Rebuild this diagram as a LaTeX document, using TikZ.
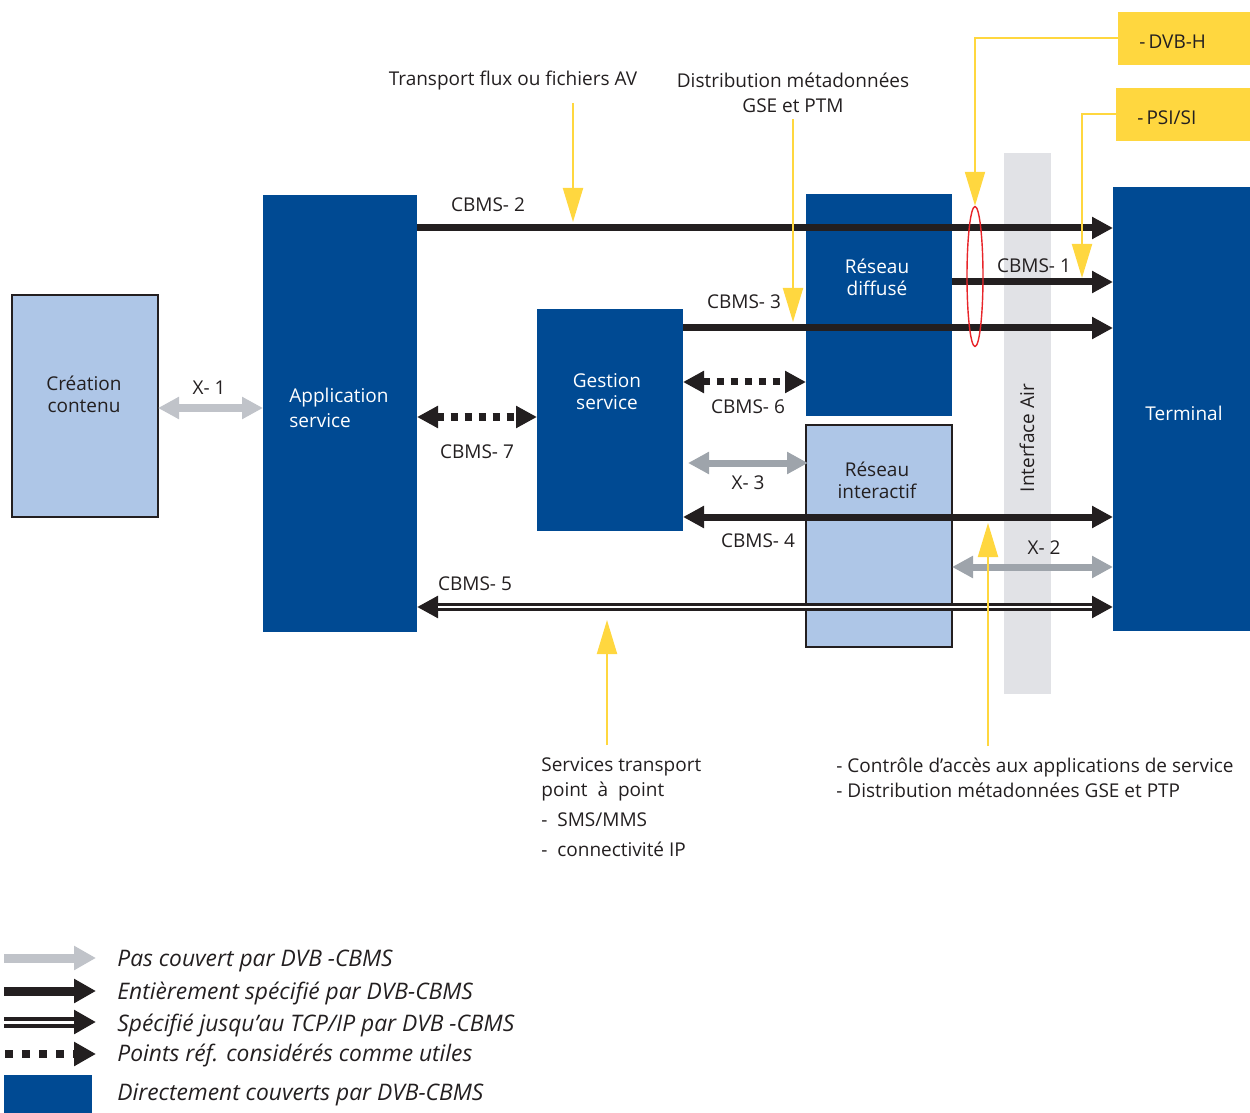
\documentclass[tikz,border=0pt]{standalone}
\usepackage{fontspec}
\setmainfont{Open Sans}
\usetikzlibrary{arrows.meta,shapes.geometric}
\definecolor{dblue}{HTML}{004A93}
\definecolor{lblue}{HTML}{AEC6E7}
\definecolor{bandc}{HTML}{E1E2E6}
\definecolor{lgray}{HTML}{C0C3C9}
\definecolor{dgray}{HTML}{9EA4AB}
\definecolor{yel}{HTML}{FFD73F}
\definecolor{ink}{HTML}{231F20}
\definecolor{redc}{HTML}{E8252A}
\newcommand\labfont{\fontsize{9.5}{12.5}\selectfont}
\newcommand\boxfont{\fontsize{9.5}{11}\selectfont}
\newcommand\legfont{\fontsize{11.4}{13}\selectfont\itshape}
\tikzset{
  TB/.tip={Triangle[length=10.5pt,width=10.5pt]},
  TL/.tip={Triangle[length=11pt,width=11.5pt]},
  TY/.tip={Triangle[length=17pt,width=10pt]},
}
\begin{document}
\begin{tikzpicture}[x=0.5pt,y=-0.5pt,
  bluebox/.style={fill=dblue, draw=none, inner sep=0pt, outer sep=0pt},
  lightbox/.style={fill=lblue, draw=ink, line width=1pt, inner sep=0pt, outer sep=0pt},
  wtxt/.style={text=white, font=\boxfont, align=center, inner sep=0pt},
  dtxt/.style={text=ink, font=\boxfont, align=center, inner sep=0pt},
  lbl/.style={text=ink, font=\labfont, inner sep=0pt},
  blk/.style={draw=ink, line width=3.5pt, -TB},
  blkd/.style={draw=ink, line width=3.5pt, TB-TB},
  dots/.style={draw=ink, line width=3.5pt, dash pattern=on 3.5pt off 3.5pt, TB-TB},
  grayl/.style={draw=lgray, line width=3.5pt, TB-TB},
  grayd/.style={draw=dgray, line width=3.5pt, TB-TB},
  yarr/.style={draw=yel, line width=1pt, -TY},
  legtxt/.style={text=ink, font=\legfont, anchor=base west, inner sep=0pt},
]
\useasboundingbox (0,0) rectangle (1250,1113);

% background band
\node[fill=bandc, inner sep=0pt, minimum width=23.5pt, minimum height=270.5pt] (air) at (1027.5,423.5) {};
\node[rotate=90, text=ink, font=\labfont, inner sep=0pt] (airt) at (1027,438) {Interface Air};

% boxes
\node[lightbox, minimum width=73pt, minimum height=111pt] (crea) at (85,406) {};
\node[bluebox, minimum width=77pt, minimum height=218.5pt] (app) at (340,413.5) {};
\node[bluebox, minimum width=73pt, minimum height=111pt] (gest) at (610,420) {};
\node[bluebox, minimum width=73pt, minimum height=111pt] (diff) at (879,305) {};
\node[lightbox, minimum width=73pt, minimum height=111pt] (inter) at (879,536) {};
\node[bluebox, minimum width=68.5pt, minimum height=222pt] (term) at (1181.5,409) {};
\node[fill=yel, inner sep=0pt, minimum width=66pt, minimum height=26.5pt] (dvbh) at (1184,38.5) {};
\node[fill=yel, inner sep=0pt, minimum width=67pt, minimum height=26.5pt] (psi) at (1183,114.5) {};

% box texts
\node[dtxt] (creat) at (84,394) {Création\\contenu};
\node[wtxt, font=\labfont, align=left, anchor=west] (appt) at (289,408) {Application\\service};
\node[wtxt] (gestt) at (607,392) {Gestion\\service};
\node[wtxt] (difft) at (877,277) {Réseau\\diffusé};
\node[dtxt] (intert) at (877,480) {Réseau\\interactif};
\node[wtxt] (termt) at (1184,413) {Terminal};
\node[lbl, anchor=west] (dvbht) at (1139,42) {-\kern1.5pt DVB-H};
\node[lbl, anchor=west] (psit) at (1137,118) {-\kern1.5pt PSI/SI};

% connectors
\draw[grayl] (crea.east |- 0,408) -- (app.west |- 0,408);
\draw[blk] (app.east |- 0,228) -- (term.west |- 0,228);
\draw[blk] (diff.east |- 0,282) -- (term.west |- 0,282);
\draw[blk] (gest.east |- 0,328) -- (term.west |- 0,328);
\draw[dots] (gest.east |- 0,382) -- (diff.west |- 0,382);
\draw[dots] (app.east |- 0,417) -- (gest.west |- 0,417);
\draw[grayd] ([xshift=2.5pt]gest.east |- 0,463) -- ([xshift=1pt]inter.west |- 0,463);
\draw[blkd] (gest.east |- 0,517) -- (term.west |- 0,517);
\draw[grayd] (inter.east |- 0,567) -- (term.west |- 0,567);
\draw[draw=ink, line width=4pt, TB-TB] (app.east |- 0,607) -- (term.west |- 0,607);
\draw[draw=white, line width=1.3pt, shorten <=10.5pt, shorten >=10.5pt] (app.east |- 0,607) -- (term.west |- 0,607);

% connector labels
\node[lbl] (l1) at (209,388) {X- 1};
\node[lbl] (l2) at (488,205) {CBMS- 2};
\node[lbl] (l3) at (1034,266) {CBMS- 1};
\node[lbl] (l4) at (744,302) {CBMS- 3};
\node[lbl] (l5) at (748,407) {CBMS- 6};
\node[lbl] (l6) at (477,452) {CBMS- 7};
\node[lbl] (l7) at (748,483) {X- 3};
\node[lbl] (l8) at (758,541) {CBMS- 4};
\node[lbl] (l9) at (1044,548) {X- 2};
\node[lbl] (l10) at (475,584) {CBMS- 5};

% annotation texts
\node[text=ink, font=\labfont, align=center, inner sep=0pt] (trans) at (513,81) {Transport flux ou fichiers AV};
\node[text=ink, font=\labfont, align=center, inner sep=0pt] (dist) at (793,93) {Distribution métadonnées\\GSE et PTM};
\node[lbl, align=left, anchor=north west] (serv) at (541,757) {Services transport\\point\ \ à\ \ point\\[2.5pt]-\ \ SMS/MMS\\[2.5pt]-\ \ connectivité IP};
\node[lbl, align=left, anchor=north west] (ctrl) at (836,758) {- Contrôle d’accès aux applications de service\\- Distribution métadonnées GSE et PTP};

% yellow pointers
\node[ellipse, draw=redc, line width=0.7pt, minimum width=8pt, minimum height=70pt, inner sep=0pt] (ell) at (975,276.5) {};
\coordinate (yT) at (573,222);
\coordinate (yD) at (793,322);
\coordinate (yP) at (1082,278);
\coordinate (yS) at (607,620);
\coordinate (yC) at (988,523);
\draw[yarr, shorten <=6pt] (yT |- trans.south) -- (yT);
\draw[yarr, shorten <=3pt] (yD |- dist.south) -- (yD);
\draw[yarr] (dvbh.west) -| (ell.north);
\draw[yarr] (psi.west) -| (yP);
\draw[yarr, shorten <=6pt] (yS |- serv.north) -- (yS);
\draw[yarr, shorten <=6pt] (yC |- ctrl.north) -- (yC);

% legend
\coordinate (a1) at (4,958);  \coordinate (b1) at (96,958);
\coordinate (a2) at (4,991);  \coordinate (b2) at (96,991);
\coordinate (a3) at (4,1022); \coordinate (b3) at (96,1022);
\coordinate (a4) at (5,1054); \coordinate (b4) at (96,1054);
\draw[draw=lgray, line width=4.5pt, -TL] (a1) -- (b1);
\draw[draw=ink, line width=4.5pt, -TL] (a2) -- (b2);
\draw[draw=ink, line width=5.5pt, -TL] (a3) -- (b3);
\draw[draw=white, line width=1.5pt, shorten >=11pt] (a3) -- (b3);
\draw[draw=ink, line width=4pt, dash pattern=on 4pt off 4.5pt, -TL] (a4) -- (b4);
\node[fill=dblue, inner sep=0pt, minimum width=44pt, minimum height=19pt] (leg5) at (48,1094) {};
\node[legtxt] (t1) at (117,966) {Pas couvert par DVB -CBMS};
\node[legtxt] (t2) at (117,999) {Entièrement spécifié par DVB-CBMS};
\node[legtxt] (t3) at (117,1031) {Spécifié jusqu’au TCP/IP par DVB -CBMS};
\node[legtxt] (t4) at (117,1061) {Points réf. considérés comme utiles};
\node[legtxt] (t5) at (117,1100) {Directement couverts par DVB-CBMS};
\end{tikzpicture}
\end{document}
